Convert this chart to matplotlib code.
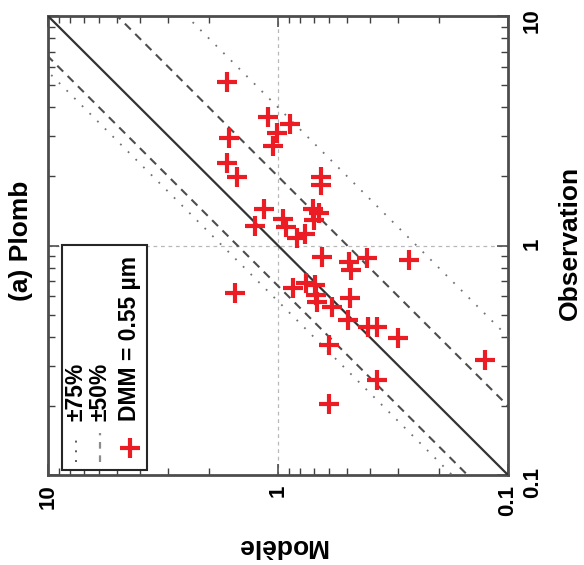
import numpy as np
import matplotlib
matplotlib.use("Agg")
import matplotlib.pyplot as plt
from matplotlib.ticker import FixedLocator, FixedFormatter, LogLocator, NullFormatter
from matplotlib.patches import Rectangle

plt.rcParams['font.family'] = ['Liberation Sans', 'DejaVu Sans']
plt.rcParams['font.weight'] = 'bold'

# model (horizontal, reversed) vs observation (vertical) -- figure is drawn rotated
modele = [1.67, 1.63, 1.67, 1.51, 1.10, 0.887, 1.01, 1.05, 1.15, 1.26,
          0.951, 0.923, 0.826, 0.763, 0.650, 0.650, 0.705, 0.664, 0.697, 0.644,
          0.491, 0.482, 0.410, 0.269, 1.54, 0.861, 0.755, 0.690, 0.684, 0.676,
          0.582, 0.486, 0.497, 0.406, 0.372, 0.301, 0.126, 0.600, 0.372, 0.600]
observation = [5.15, 2.94, 2.29, 1.99, 3.63, 3.38, 3.09, 2.71, 1.44, 1.22,
               1.30, 1.20, 1.08, 1.12, 1.99, 1.84, 1.44, 1.39, 1.29, 0.891,
               0.847, 0.781, 0.883, 0.865, 0.621, 0.653, 0.687, 0.673, 0.608, 0.568,
               0.540, 0.590, 0.473, 0.442, 0.442, 0.395, 0.317, 0.368, 0.259, 0.204]

ticks = [0.1, 1, 10]
tick_labels = ["0.1", "1", "10"]
band50 = [0.5, 1.5]    # modele = f * observation
band75 = [0.25, 1.75]

red = '#ec1c24'
fig = plt.figure(figsize=(5.84, 5.65), dpi=100)
ax = fig.add_axes([48/584, 90/565, 460/584, 459/565])
ax.set_xscale('log'); ax.set_yscale('log')

obs_line = np.array([0.01, 100.0])
ax.plot(obs_line, obs_line, '-', color='0.2', lw=1.6, zorder=3)
for f in band50:
    ax.plot(f*obs_line, obs_line, ls=(0, (4, 3)), color='0.3', lw=1.5, zorder=3)
for f in band75:
    ax.plot(f*obs_line, obs_line, ls=(0, (1, 5)), color='0.45', lw=1.3, zorder=3)
ax.axvline(1, color='0.72', ls=(0, (3, 3)), lw=0.9, zorder=1)
ax.axhline(1, color='0.72', ls=(0, (3, 3)), lw=0.9, zorder=1)

ax.plot(modele, observation, '+', ms=14, mew=3, color=red, zorder=4, clip_on=False)

ax.set_xlim(10, 0.1); ax.set_ylim(0.1, 10)
for axis in (ax.xaxis, ax.yaxis):
    axis.set_major_locator(FixedLocator(ticks))
    axis.set_major_formatter(FixedFormatter(tick_labels))
    axis.set_minor_locator(LogLocator(base=10, subs=range(2, 10)))
    axis.set_minor_formatter(NullFormatter())
ax.tick_params(which='both', direction='in', top=True, right=True, left=True, bottom=True,
               labelleft=False, labeltop=False, labelright=True, labelbottom=True,
               color='0.25')
ax.tick_params(which='major', length=8, width=1.1, labelsize=16, labelrotation=90)
ax.tick_params(which='minor', length=5, width=1.0)
ax.tick_params(axis='x', pad=7)
ax.tick_params(axis='y', pad=10)
for sp_ in ax.spines.values():
    sp_.set_linewidth(2.0); sp_.set_color('0.3')

# rotated legend drawn by hand
ax.add_patch(Rectangle((0.030, 0.011), 0.185, 0.490, transform=ax.transAxes,
                       fill=True, fc='white', ec='0.15', lw=1.5, zorder=5))
ax.plot([0.061, 0.061], [0.028, 0.092], ls=(0, (1, 4)), color='0.35', lw=1.4,
        transform=ax.transAxes, zorder=6)
ax.plot([0.113, 0.113], [0.028, 0.092], ls=(0, (3, 3)), color='0.55', lw=1.6,
        transform=ax.transAxes, zorder=6)
ax.plot([0.178], [0.059], '+', ms=14, mew=3, color=red, transform=ax.transAxes, zorder=6)
for xc, lab in [(0.061, "±75%"), (0.113, "±50%"), (0.178, "DMM = 0.55 µm")]:
    ax.text(xc, 0.118, lab, rotation=90, ha='center', va='bottom', fontsize=16.5,
            transform=ax.transAxes, zorder=7)

fig.text(21/584, 1 - 241/565, "(a) Plomb", rotation=90, ha='center', va='center', fontsize=19)
fig.text(570/584, 1 - 243/565, "Observation", rotation=90, ha='center', va='center', fontsize=19)
fig.text(282/584, 1 - 546/565, "Modèle", rotation=180, ha='center', va='center', fontsize=19)

fig.savefig("out.png", dpi=100)
